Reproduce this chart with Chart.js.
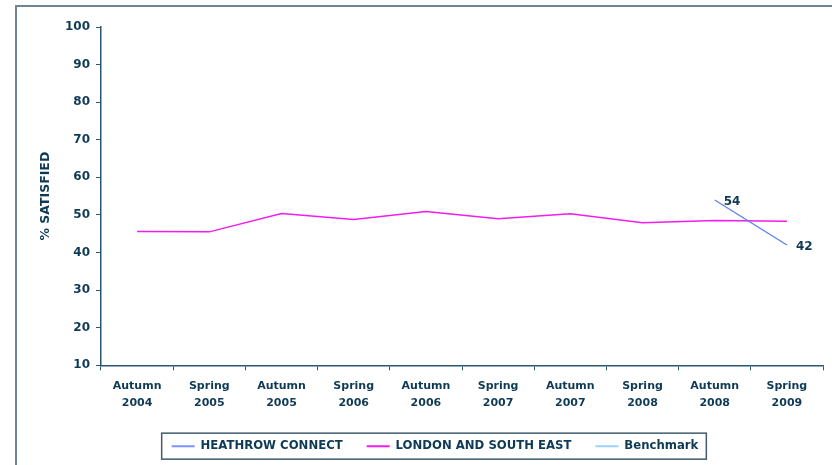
<!DOCTYPE html>
<html>
<head>
<meta charset="utf-8">
<script src="https://cdn.jsdelivr.net/npm/chart.js@4.4.1/dist/chart.umd.min.js"></script>
<style>
  html, body { margin: 0; padding: 0; background: #fff; overflow: hidden; }
  #frame {
    position: absolute; left: 15px; top: 5px; width: 840px; height: 480px;
    border-left: 2px solid #6f8592; border-top: 2px solid #6f8592;
  }
  #wrap { position: absolute; left: 0; top: 0; width: 832px; height: 465px; }
</style>
</head>
<body>
<div id="frame"></div>
<div id="wrap"><canvas id="chart"></canvas></div>
<script>
// Survey waves and satisfaction scores
const categories = [
  ['Autumn', '2004'], ['Spring', '2005'], ['Autumn', '2005'], ['Spring', '2006'],
  ['Autumn', '2006'], ['Spring', '2007'], ['Autumn', '2007'], ['Spring', '2008'],
  ['Autumn', '2008'], ['Spring', '2009']
];
const heathrowConnect = [null, null, null, null, null, null, null, null, 54, 42];
const londonSouthEast = [45.6, 45.5, 50.4, 48.8, 50.9, 49.0, 50.3, 47.9, 48.5, 48.3];
const benchmark = [];
const yTicks = [10, 20, 30, 40, 50, 60, 70, 80, 90, 100];

const TEXT = '#0f3a55';
const AXIS = '#2b5672';
const FONT = 'DejaVu Sans';

// Writes the Heathrow values to the right of each point
const valueLabels = {
  id: 'valueLabels',
  afterDatasetsDraw(chart) {
    const ctx = chart.ctx;
    const meta = chart.getDatasetMeta(0);
    ctx.save();
    ctx.font = 'bold 12px ' + FONT;
    ctx.fillStyle = TEXT;
    ctx.textBaseline = 'middle';
    meta.data.forEach((pt, i) => {
      const v = heathrowConnect[i];
      if (v === null) return;
      ctx.fillText(String(v), pt.x + 9, pt.y + 2);
    });
    ctx.restore();
  }
};

// Box round the legend
const legendBox = {
  id: 'legendBox',
  afterDraw(chart) {
    const lg = chart.legend;
    if (!lg || !lg.legendHitBoxes.length) return;
    const boxes = lg.legendHitBoxes;
    const last = boxes[boxes.length - 1];
    const x0 = boxes[0].left - 10;
    const x1 = last.left + last.width + 8;
    const cy = boxes[0].top + boxes[0].height / 2;
    const ctx = chart.ctx;
    ctx.save();
    ctx.strokeStyle = '#3f5d6e';
    ctx.lineWidth = 1.5;
    ctx.strokeRect(x0, cy - 13, x1 - x0, 26);
    ctx.restore();
  }
};

new Chart(document.getElementById('chart'), {
  type: 'line',
  data: {
    labels: categories,
    datasets: [
      {
        label: 'HEATHROW CONNECT',
        data: heathrowConnect,
        borderColor: '#5b7cf2',
        backgroundColor: '#5b7cf2',
        borderWidth: 1.2,
        pointRadius: 0,
        tension: 0
      },
      {
        label: 'LONDON AND SOUTH EAST',
        data: londonSouthEast,
        borderColor: '#f21cf0',
        backgroundColor: '#f21cf0',
        borderWidth: 1.5,
        pointRadius: 0,
        tension: 0
      },
      {
        label: 'Benchmark',
        data: benchmark,
        borderColor: '#9fd0ff',
        backgroundColor: '#9fd0ff',
        borderWidth: 2,
        pointRadius: 0
      }
    ]
  },
  options: {
    responsive: true,
    maintainAspectRatio: false,
    animation: false,
    layout: { padding: { left: 47, right: 9, top: 27, bottom: 3 } },
    plugins: {
      tooltip: { enabled: false },
      legend: {
        position: 'bottom',
        labels: {
          usePointStyle: true,
          pointStyle: 'line',
          pointStyleWidth: 23,
          boxHeight: 2,
          padding: 24,
          color: TEXT,
          font: { family: FONT, size: 11.7, weight: 'bold' },
          generateLabels(chart) {
            return chart.data.datasets.map((ds, i) => ({
              text: ds.label,
              strokeStyle: i === 0 ? '#7d95ff' : ds.borderColor,
              fillStyle: ds.borderColor,
              lineWidth: 2,
              pointStyle: 'line',
              fontColor: TEXT,
              hidden: false,
              datasetIndex: i
            }));
          }
        }
      }
    },
    scales: {
      x: {
        offset: true,
        afterFit(scale) { scale.height = 51; },
        border: { color: AXIS, width: 1.5 },
        grid: { offset: true, drawOnChartArea: false, color: AXIS, tickLength: 5 },
        ticks: {
          color: TEXT,
          maxRotation: 0,
          autoSkip: false,
          padding: 8,
          font: { family: FONT, size: 11, weight: 'bold', lineHeight: 1.5 }
        }
      },
      y: {
        min: 10,
        max: 100,
        afterFit(scale) { scale.width = 54; },
        afterBuildTicks(scale) { scale.ticks = yTicks.map(v => ({ value: v })); },
        border: { color: AXIS, width: 1.5 },
        grid: { drawOnChartArea: false, color: AXIS, tickLength: 5 },
        ticks: {
          color: TEXT,
          padding: 6,
          font: { family: FONT, size: 12, weight: 'bold' }
        },
        title: {
          display: true,
          text: '% SATISFIED',
          color: TEXT,
          padding: { top: -9, bottom: 0 },
          font: { family: FONT, size: 12.5, weight: 'bold' }
        }
      }
    }
  },
  plugins: [valueLabels, legendBox]
});
</script>
</body>
</html>
